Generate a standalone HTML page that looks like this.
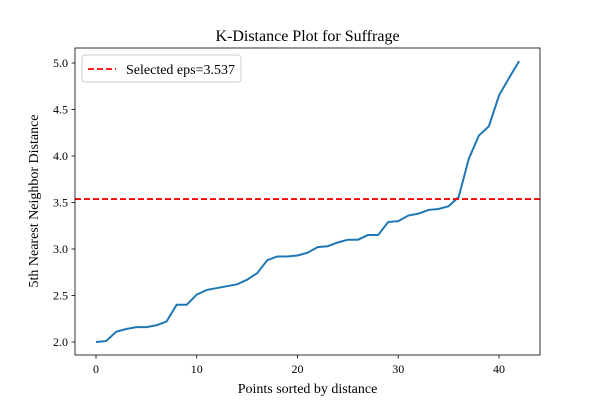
<!DOCTYPE html>
<html><head><meta charset="utf-8"><style>
body{margin:0;background:#fff;}
text{font-family:"Liberation Serif","DejaVu Serif",serif;fill:#000;}
</style></head><body>
<svg id="chart" width="600" height="400" xmlns="http://www.w3.org/2000/svg">
<rect width="600" height="400" fill="#fff"/>
<text x="307.5" y="41" font-size="16" text-anchor="middle">K-Distance Plot for Suffrage</text>
<g id="ticks"></g>
<g id="marks"></g>
<rect x="75" y="48" width="465" height="307" fill="none" stroke="#000" stroke-width="0.8"/>
<text x="307.5" y="393" font-size="14" text-anchor="middle">Points sorted by distance</text>
<text transform="translate(38,201) rotate(-90)" font-size="14" text-anchor="middle">5th Nearest Neighbor Distance</text>
<g>
<rect x="82" y="55" width="159" height="27" rx="3" fill="#fff" stroke="#ccc"/>
<line x1="88" y1="69" x2="116" y2="69" stroke="#f00" stroke-width="1.8" stroke-dasharray="6,3"/>
<text x="126" y="74" font-size="14">Selected eps=3.537</text>
</g>
</svg>
<script>
const distances=[2.00,2.01,2.11,2.14,2.16,2.16,2.18,2.22,2.40,2.40,2.51,2.56,2.58,2.60,2.62,2.67,2.74,2.88,2.92,2.92,2.93,2.96,3.02,3.03,3.07,3.10,3.10,3.15,3.15,3.29,3.30,3.36,3.38,3.42,3.43,3.46,3.56,3.97,4.22,4.32,4.65,4.84,5.02];
const eps=3.537;
const xTicks=[0,10,20,30,40];
const yTicks=[2.0,2.5,3.0,3.5,4.0,4.5,5.0];
const ns="http://www.w3.org/2000/svg";
const xs=i=>96+i*(499-96)/40;
const ys=v=>342-(v-2)*(342-63)/3;
const tk=document.getElementById('ticks'),mk=document.getElementById('marks');
function mkEl(t,a,p){const e=document.createElementNS(ns,t);for(const k in a)e.setAttribute(k,a[k]);p.appendChild(e);return e;}
xTicks.forEach(t=>{
 const g=mkEl('g',{},tk);
 
 
 mkEl('line',{x1:xs(t),x2:xs(t),y1:355,y2:358.5,stroke:'#000','stroke-width':0.8},g);
 const tx=mkEl('text',{x:xs(t),y:373,'font-size':12,'text-anchor':'middle'},g);tx.textContent=t;
});
yTicks.forEach(t=>{
 const g=mkEl('g',{},tk);
 
 
 mkEl('line',{x1:71.5,x2:75,y1:ys(t),y2:ys(t),stroke:'#000','stroke-width':0.8},g);
 const tx=mkEl('text',{x:68,y:ys(t)+4,'font-size':12,'text-anchor':'end'},g);tx.textContent=t.toFixed(1);
});
const line=mkEl('polyline',{points:distances.map((v,i)=>xs(i)+','+ys(v)).join(' '),fill:'none',stroke:'#1f77b4','stroke-width':2},mk);


const el=mkEl('line',{x1:75,x2:540,y1:ys(eps),y2:ys(eps),stroke:'#f00','stroke-width':1.8,'stroke-dasharray':'6,3'},mk);


</script>
</body></html>
